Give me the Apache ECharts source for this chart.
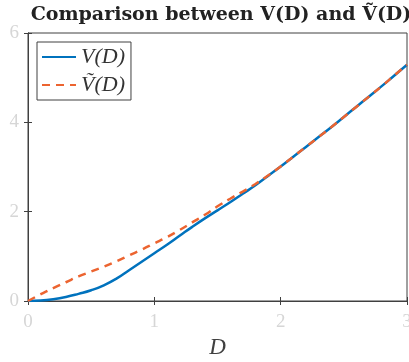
<!DOCTYPE html>
<html><head><meta charset="utf-8">
<script src="https://cdn.jsdelivr.net/npm/echarts@6/dist/echarts.min.js"></script>
<style>html,body{margin:0;padding:0;background:#fff}#c{width:409px;height:362px}</style>
</head><body><div id="c"></div>
<script>
const dValues = [0,0.1,0.2,0.3,0.4,0.5,0.6,0.7,0.8,0.9,1.0,1.1,1.2,1.3,1.4,1.5,1.6,1.7,1.8,1.9,2.0,2.1,2.2,2.3,2.4,2.5,2.6,2.7,2.8,2.9,3.0];
const vValues = [0,0.01,0.04,0.09,0.16,0.24,0.35,0.50,0.69,0.88,1.07,1.26,1.46,1.66,1.85,2.03,2.21,2.40,2.59,2.80,3.01,3.23,3.45,3.67,3.89,4.12,4.35,4.58,4.81,5.05,5.29];
const vTildeValues = [0,0.15,0.29,0.42,0.55,0.66,0.77,0.89,1.02,1.15,1.29,1.43,1.59,1.76,1.93,2.12,2.29,2.45,2.62,2.81,3.01,3.23,3.45,3.67,3.89,4.12,4.35,4.58,4.81,5.05,5.29];
const xTicks = [0,1,2,3];
const yTicks = [0,2,4,6];
const titleText = 'Comparison between V(D) and \u1E7C(D)';
const seriesNames = ['V(D)', '\u1E7C(D)'];

const chart = echarts.init(document.getElementById('c'), null, {renderer:'canvas'});
const serif = '"Liberation Serif","DejaVu Serif",serif';
const axisColor = '#404040';
const labelColor = '#d6d6d6';
chart.setOption({
  animation:false,
  title:{text:titleText, left:216, top:1, textAlign:'center',
    textStyle:{fontFamily:'"DejaVu Serif",serif', fontWeight:'bold', fontSize:19, color:'#222'}},
  grid:{left:28, right:2, top:33, bottom:61, containLabel:false, outerBoundsMode:'none',
    show:true, borderColor:axisColor, borderWidth:1, backgroundColor:'#fff'},
  legend:{left:37, top:42, orient:'vertical', borderColor:axisColor, borderWidth:1, padding:[4,6,4,4],
    itemWidth:34, itemHeight:10, itemGap:6, backgroundColor:'#fff',
    itemStyle:{opacity:0},
    textStyle:{fontFamily:serif, fontStyle:'italic', fontSize:22, color:'#333'},
    data:seriesNames},
  xAxis:[{type:'value', min:0, max:3, interval:1, position:'bottom',
    name:'D', nameLocation:'middle', nameGap:35,
    nameTextStyle:{fontFamily:serif, fontStyle:'italic', fontSize:23, color:axisColor},
    axisLine:{show:true, lineStyle:{color:axisColor}},
    axisTick:{show:true, inside:true, length:4, lineStyle:{color:axisColor}},
    axisLabel:{fontFamily:serif, fontSize:19, color:labelColor, margin:12,
      formatter:v=>xTicks.includes(v)?String(v):''},
    splitLine:{show:false}},
   {type:'value', min:0, max:3, interval:1, position:'top',
    axisLine:{show:true, lineStyle:{color:axisColor}},
    axisTick:{show:true, inside:true, length:4, lineStyle:{color:axisColor}},
    axisLabel:{show:false}, splitLine:{show:false}}],
  yAxis:[{type:'value', min:0, max:6, interval:2, position:'left',
    axisLine:{show:true, lineStyle:{color:axisColor}},
    axisTick:{show:true, inside:true, length:4, lineStyle:{color:axisColor}},
    axisLabel:{fontFamily:serif, fontSize:19, color:labelColor, margin:9,
      formatter:v=>yTicks.includes(v)?String(v):''},
    splitLine:{show:false}},
   {type:'value', min:0, max:6, interval:2, position:'right',
    axisLine:{show:true, lineStyle:{color:axisColor}},
    axisTick:{show:true, inside:true, length:4, lineStyle:{color:axisColor}},
    axisLabel:{show:false}, splitLine:{show:false}}],
  series:[
    {name:seriesNames[0], type:'line', smooth:true, symbol:'none', xAxisIndex:0, yAxisIndex:0,
     data:dValues.map((d,i)=>[d,vValues[i]]),
     lineStyle:{color:'#0072BD', width:2.5}, itemStyle:{color:'#0072BD'}},
    {name:seriesNames[1], type:'line', smooth:true, symbol:'none', xAxisIndex:0, yAxisIndex:0,
     data:dValues.map((d,i)=>[d,vTildeValues[i]]),
     lineStyle:{color:'#EC6430', width:2.5, type:[8,6]}, itemStyle:{color:'#EC6430'}, z:3}
  ]
});
</script></body></html>
